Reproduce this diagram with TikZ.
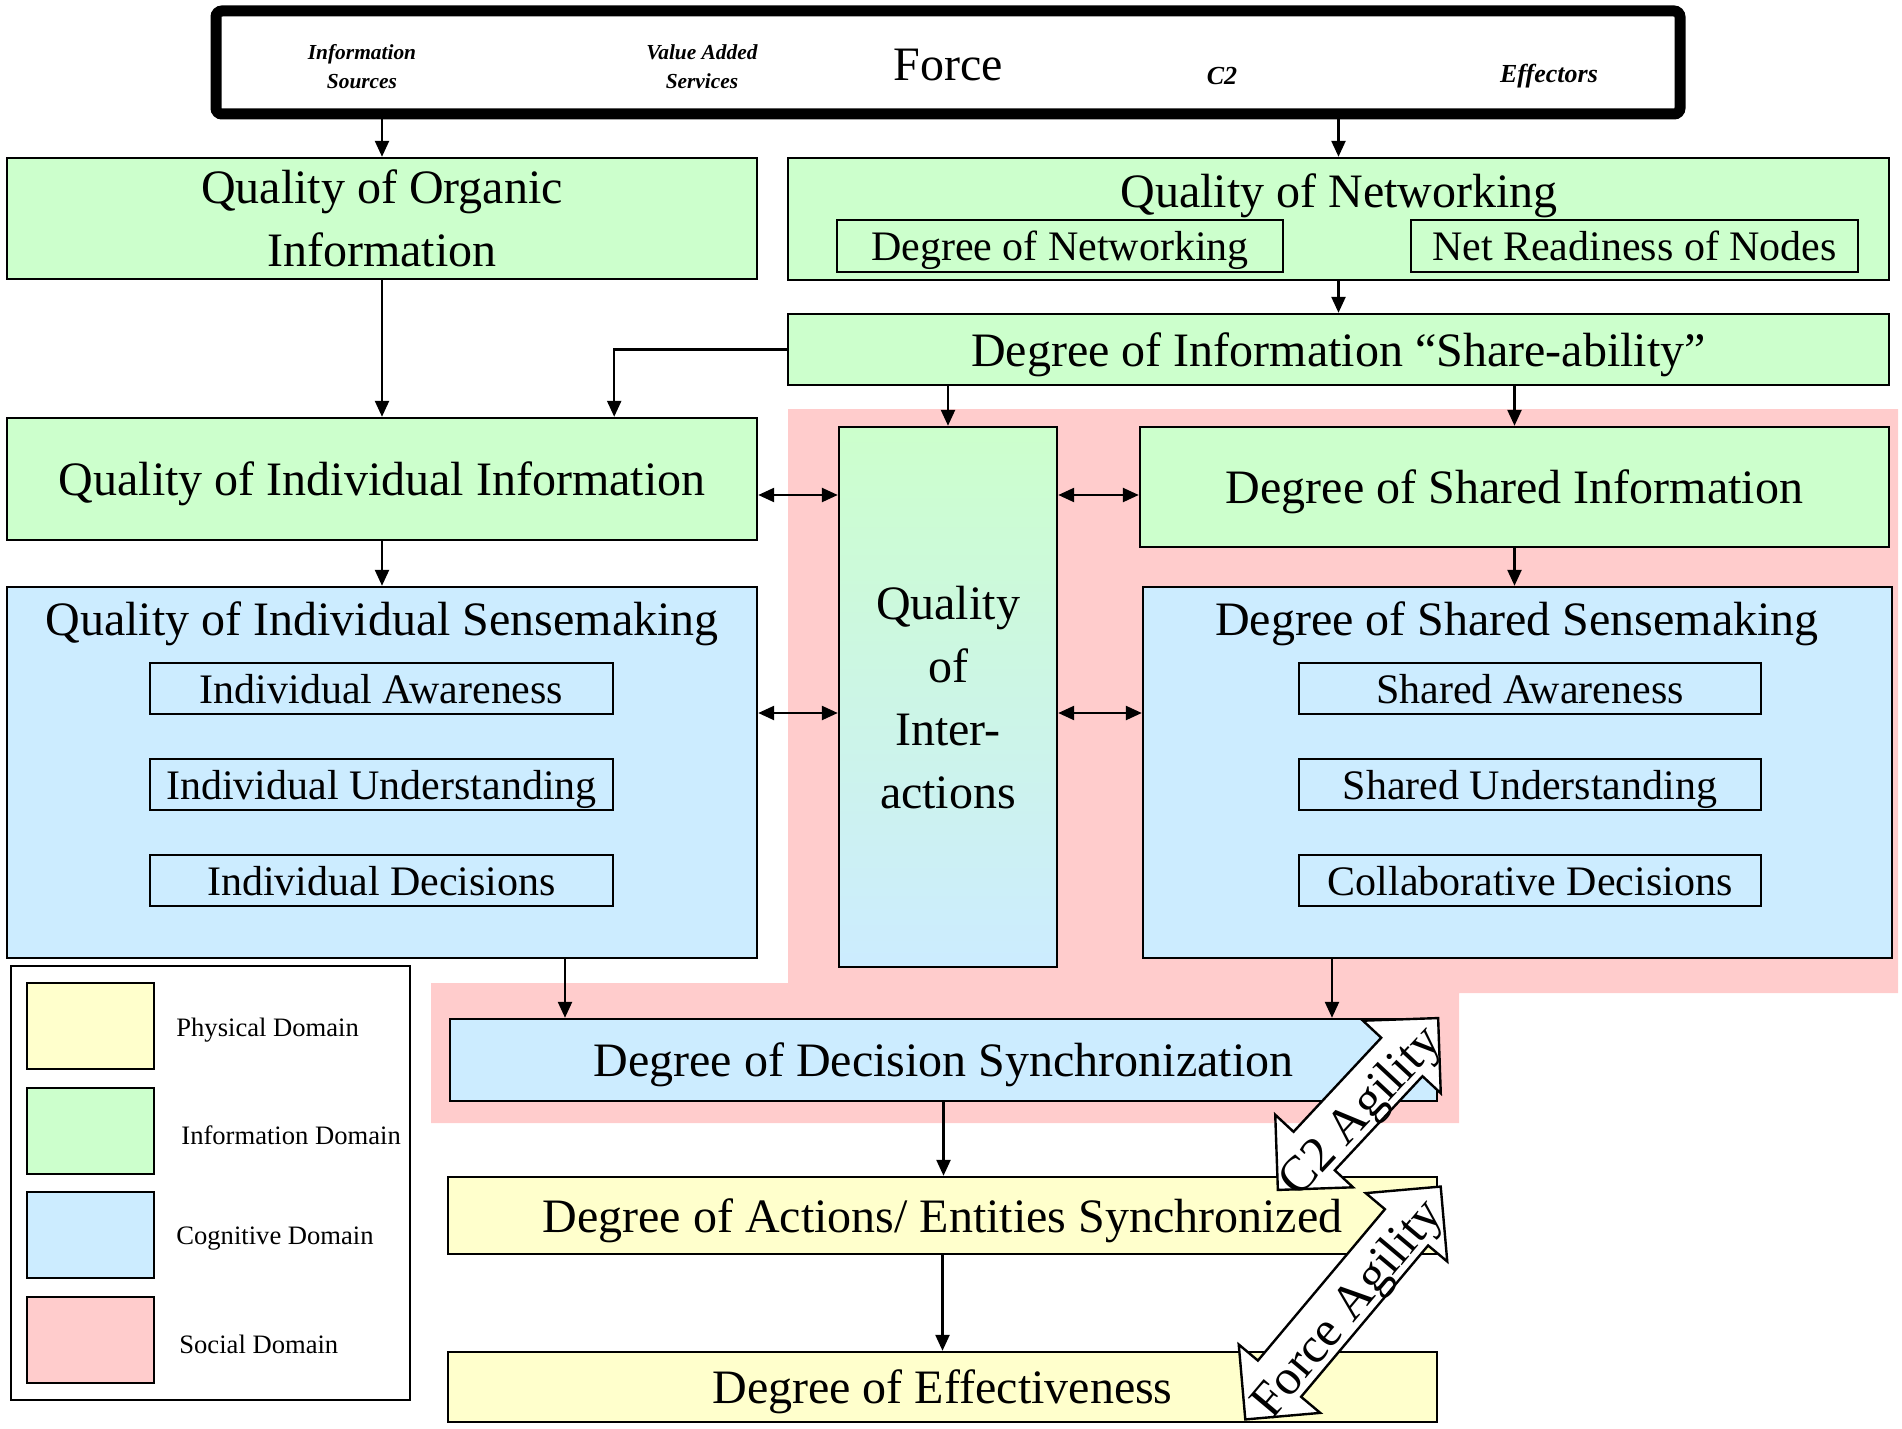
\documentclass[tikz,border=0pt]{standalone}
\usepackage{fontspec}
\setmainfont{Liberation Serif}
\usetikzlibrary{arrows.meta,shapes.arrows}
\definecolor{physdom}{HTML}{FFFFCC}
\definecolor{infodom}{HTML}{CCFFCC}
\definecolor{cogdom}{HTML}{CCECFF}
\definecolor{socdom}{HTML}{FFCCCC}
\begin{document}
\begin{tikzpicture}[x=0.5pt,y=-0.5pt,
		box/.style={draw, line width=1.2pt, inner sep=0pt, align=center, text depth=-3.5pt, font=\fontsize{24}{31.5}\selectfont},
		infobox/.style={box, fill=infodom},
		cogbox/.style={box, fill=cogdom},
		physbox/.style={box, fill=physdom},
		subbox/.style={draw, line width=1.2pt, inner sep=0pt, minimum height=25.5pt, text depth=-2pt, font=\fontsize{21}{25}\selectfont},
		title/.style={font=\fontsize{24}{28}\selectfont},
		tag/.style={align=center, font=\fontsize{10.7}{14.5}\selectfont\bfseries\itshape},
		bigtag/.style={font=\fontsize{13}{15}\selectfont\bfseries\itshape},
		flow/.style={line width=1.2pt, -{Triangle[length=8pt,width=7pt]}},
		both/.style={line width=1.2pt, {Triangle[length=8pt,width=7pt]}-{Triangle[length=8pt,width=7pt]}},
		swatch/.style={draw, line width=1.2pt, minimum width=63.5pt, minimum height=43pt, inner sep=0pt},
		legendtext/.style={anchor=west, inner sep=0pt, font=\fontsize{13.3}{15}\selectfont},
		agility/.style={double arrow, draw, fill=white, line width=1.2pt, inner sep=13.5pt, double arrow head extend=12.5pt},
		agilitytext/.style={font=\fontsize{25}{30}\selectfont}]
	\useasboundingbox (0,0) rectangle (1902,1429);
	% social domain background
	\fill[socdom] (788,409) -- (1898,409) -- (1898,993) -- (1459,993) -- (1459,1123)
		-- (431,1123) -- (431,983) -- (788,983) -- cycle;
	% the force
	\node[draw, line width=5.5pt, rounded corners=3pt, inner sep=0pt, minimum width=732pt, minimum height=51.5pt] (force) at (948,62.5) {};
	\node[tag] (infosrc) at (362,67) {Information\\Sources};
	\node[tag] (vas) at (702,67) {Value Added\\Services};
	\node[title] (forcetitle) at (948,65) {Force};
	\node[bigtag] (ctwo) at (1222,76) {C2};
	\node[bigtag] (effectors) at (1549,76) {Effectors};
	% information domain
	\node[infobox, text depth=-3pt, minimum width=375pt, minimum height=60.5pt] (qoi) at (382,218.5) {Quality of Organic\\Information};
	\node[infobox, minimum width=550.5pt, minimum height=61pt] (qnet) at (1338.5,219) {};
	\node[title] (qnettitle) at (1339,196) {Quality of Networking};
	\node[subbox, minimum width=223pt, minimum height=26pt] (dnet) at (1060,246) {Degree of Networking};
	\node[subbox, minimum width=223.5pt, minimum height=26pt] (nready) at (1634.5,246) {Net Readiness of Nodes};
	\node[infobox, minimum width=550.5pt, minimum height=35.5pt] (share) at (1338.5,349.5) {Degree of Information “Share-ability”};
	\node[infobox, minimum width=375pt, minimum height=61pt] (qii) at (382,479) {Quality of Individual Information};
	\node[box, text depth=-2pt, top color=infodom, bottom color=cogdom, minimum width=109pt, minimum height=270pt] (qint) at (948,697) {Quality\\of\\Inter-\\actions};
	\node[infobox, minimum width=374.5pt, minimum height=60pt] (dsi) at (1514.5,487) {Degree of Shared Information};
	% cognitive domain
	\node[cogbox, minimum width=375pt, minimum height=185.5pt] (qis) at (382,772.5) {};
	\node[title] (qistitle) at (382,624) {Quality of Individual Sensemaking};
	\foreach \txt [count=\i] in {Individual Awareness, Individual Understanding, Individual Decisions}
		\node[subbox, minimum width=231.5pt] (indiv\i) at (381.5,592.5+96*\i) {\txt};
	\node[cogbox, minimum width=374.5pt, minimum height=185.5pt] (dss) at (1517.5,772.5) {};
	\node[title] (dsstitle) at (1517,624) {Degree of Shared Sensemaking};
	\foreach \txt [count=\i] in {Shared Awareness, Shared Understanding, Collaborative Decisions}
		\node[subbox, minimum width=231pt] (shared\i) at (1530,592.5+96*\i) {\txt};
	\node[cogbox, minimum width=493.5pt, minimum height=41pt] (dds) at (943.5,1060) {Degree of Decision Synchronization};
	% physical domain
	\node[physbox, minimum width=494.5pt, minimum height=38.5pt] (das) at (942.5,1215.5) {Degree of Actions/ Entities Synchronized};
	\node[physbox, minimum width=494.5pt, minimum height=35pt] (deff) at (942.5,1387) {Degree of Effectiveness};
	% connectors
	\coordinate (rowa) at (0,495);
	\coordinate (rowb) at (0,713);
	\path (qii.north east) ++(-144,0) coordinate (qiidrop);
	\path (qis.south) ++(183,0) coordinate (qisout);
	\path (dss.south) ++(-185.5,0) coordinate (dssout);
	\draw[flow] (qoi.north |- force.south) -- (qoi.north);
	\draw[flow] (qnet.north |- force.south) -- (qnet.north);
	\draw[flow] (qnet.south) -- (share.north);
	\draw[flow] (qoi.south) -- (qii.north);
	\draw[flow] (share.west) -| (qiidrop);
	\draw[flow] (share.south -| qint.north) -- (qint.north);
	\draw[flow] (share.south -| dsi.north) -- (dsi.north);
	\draw[flow] (dsi.south) -- (dsi.south |- dss.north);
	\draw[flow] (qii.south) -- (qis.north);
	\draw[both] (qii.east |- rowa) -- (qint.west |- rowa);
	\draw[both] (qint.east |- rowa) -- (dsi.west |- rowa);
	\draw[both] (qis.east |- rowb) -- (qint.west |- rowb);
	\draw[both] (qint.east |- rowb) -- (dss.west |- rowb);
	\draw[flow] (qisout) -- (qisout |- dds.north);
	\draw[flow] (dssout) -- (dssout |- dds.north);
	\draw[flow] (dds.south) -- (dds.south |- das.north);
	\draw[flow] (das.south) -- (das.south |- deff.north);
	% legend
	\node[draw, line width=1.2pt, minimum width=199.5pt, minimum height=217pt, inner sep=0pt] (legend) at (210.5,1183) {};
	\foreach \dom/\lab/\ypos/\xpos [count=\i] in {physdom/Physical Domain/1026/176, infodom/Information Domain/1131/181, cogdom/Cognitive Domain/1235/176, socdom/Social Domain/1340/179}
	{
		\node[swatch, fill=\dom] (swatch\i) at (90.5,\ypos) {};
		\node[legendtext] (domain\i) at (\xpos,\ypos+4) {\lab};
	}
	% agility arrows
	\node[agility, minimum height=117.5pt, rotate=47] (ctwoarrow) at (1358,1104) {};
	\node[agilitytext, rotate=47] (ctwotext) at (1362,1113) {C2 Agility};
	\node[agility, minimum height=152pt, rotate=50] (forcearrow) at (1343,1303) {};
	\node[agilitytext, rotate=50] (forcetext) at (1349,1310) {Force Agility};
\end{tikzpicture}
\end{document}
